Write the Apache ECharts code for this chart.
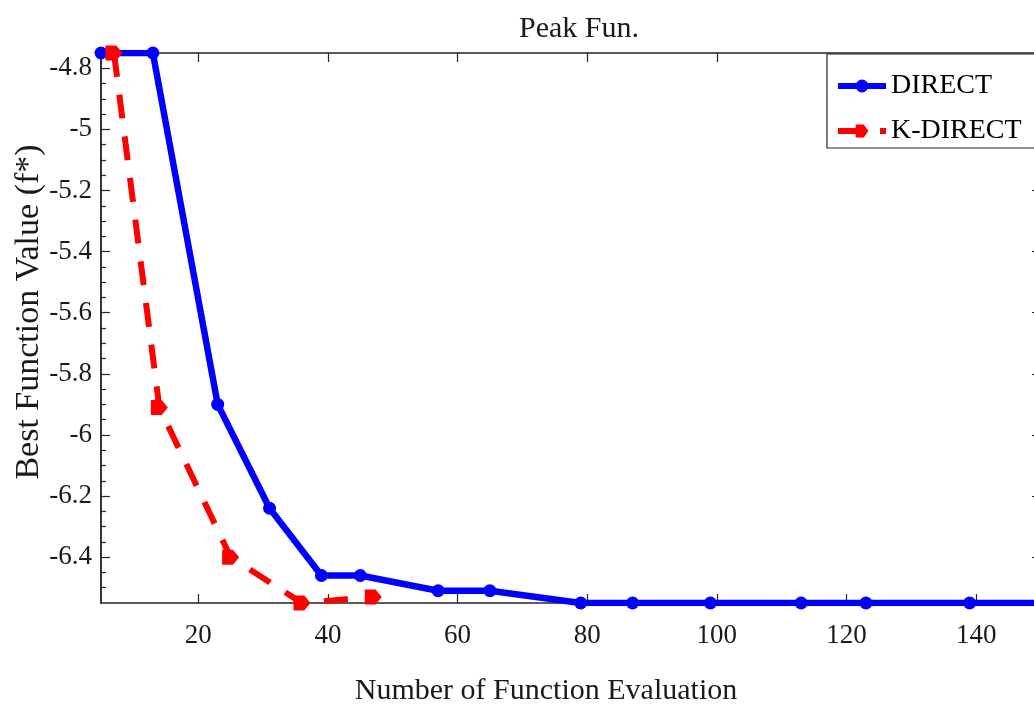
<!DOCTYPE html>
<html>
<head>
<meta charset="utf-8">
<script src="https://cdn.jsdelivr.net/npm/echarts@6/dist/echarts.min.js"></script>
<style>
  html, body { margin: 0; padding: 0; background: #fff; }
  #chart { width: 1034px; height: 709px; }
</style>
</head>
<body>
<div id="chart"></div>
<script>
// Best objective value found vs. number of function evaluations (Peak function)
const directEvals = [5, 13, 23, 31, 39, 45, 57, 65, 79, 87, 99, 113, 123, 139, 150];
const directBest  = [-4.75, -4.75, -5.90, -6.24, -6.46, -6.46, -6.51, -6.51, -6.55, -6.55, -6.55, -6.55, -6.55, -6.55, -6.55];

const kdirectEvals = [7, 14, 25, 36, 47];
const kdirectBest  = [-4.75, -5.91, -6.40, -6.55, -6.53];

const xTicks = [20, 40, 60, 80, 100, 120, 140];
const yTicks = [-6.4, -6.2, -6, -5.8, -5.6, -5.4, -5.2, -5, -4.8];

const X_MIN = 5, X_MAX = 150;
const Y_MIN = -6.55, Y_MAX = -4.75;

// minor ticks: four subdivisions per major step on the value axis
const yMinor = [];
for (let i = 0; i < yTicks.length; i++) {
  for (let k = 1; k <= 3; k++) {
    const v = +(yTicks[i] - k * 0.05).toFixed(3);
    if (v > Y_MIN) yMinor.push(v);
  }
}

const FONT = '"Liberation Serif", "Times New Roman", serif';
const AX = '#262626';

function pairs(xs, ys) { return xs.map((x, i) => [x, ys[i]]); }

function xAxisOf(position, withLabels) {
  return {
    type: 'value', position: position, min: X_MIN, max: X_MAX,
    axisLine: { show: true, onZero: false, lineStyle: { color: AX, width: 1.5 } },
    axisTick: { show: true, inside: true, length: 9, customValues: xTicks, lineStyle: { color: AX, width: 1.2 } },
    axisLabel: withLabels
      ? { show: true, customValues: xTicks, fontFamily: FONT, fontSize: 27, color: '#1a1a1a', margin: 19 }
      : { show: false },
    splitLine: { show: false },
    name: withLabels ? 'Number of Function Evaluation' : '',
    nameLocation: 'middle',
    nameGap: 73,
    nameMoveOverlap: false,
    nameTextStyle: { fontFamily: FONT, fontSize: 30, color: '#1a1a1a', padding: [0, 50, 0, 0] }
  };
}

function yAxisOf(position, ticks, len, withLabels) {
  return {
    type: 'value', position: position, min: Y_MIN, max: Y_MAX,
    axisLine: { show: true, onZero: false, lineStyle: { color: AX, width: 1.5 } },
    axisTick: { show: true, inside: true, length: len, customValues: ticks, lineStyle: { color: AX, width: 1.2 } },
    axisLabel: withLabels
      ? { show: true, customValues: yTicks, fontFamily: FONT, fontSize: 27, color: '#1a1a1a', margin: 9 }
      : { show: false },
    splitLine: { show: false },
    name: withLabels ? 'Best Function Value (f*)' : '',
    nameLocation: 'middle',
    nameGap: 55,
    nameMoveOverlap: false,
    nameTextStyle: { fontFamily: FONT, fontSize: 34, color: '#1a1a1a', padding: [0, 0, 0, 32] }
  };
}

const chart = echarts.init(document.getElementById('chart'), null, { renderer: 'canvas' });

chart.setOption({
  backgroundColor: '#ffffff',
  animation: false,
  title: {
    text: 'Peak Fun.',
    left: 519, top: 14, padding: 0,
    textStyle: { fontFamily: FONT, fontSize: 30, fontWeight: 'normal', color: '#1a1a1a' }
  },
  grid: { left: 101, top: 53, right: -7, bottom: 106, containLabel: false, outerBoundsMode: 'none' },
  xAxis: [ xAxisOf('bottom', true), xAxisOf('top', false) ],
  yAxis: [
    yAxisOf('left', yTicks, 9, true),
    yAxisOf('left', yMinor, 5, false),
    yAxisOf('right', yTicks, 9, false),
    yAxisOf('right', yMinor, 5, false)
  ],
  legend: {
    orient: 'vertical',
    left: 827, top: 54,
    padding: [17, 14, 2, 8],
    itemGap: 15,
    itemWidth: 48, itemHeight: 16,
    backgroundColor: '#ffffff',
    borderColor: AX, borderWidth: 1.2, borderRadius: 0,
    lineStyle: { width: 6 },
    textStyle: { fontFamily: FONT, fontSize: 28, color: '#000', lineHeight: 30 },
    data: ['DIRECT', 'K-DIRECT']
  },
  series: [
    {
      name: 'DIRECT', type: 'line',
      xAxisIndex: 0, yAxisIndex: 0,
      data: pairs(directEvals, directBest),
      symbol: 'circle', symbolSize: 13,
      lineStyle: { color: '#0000ff', width: 6.5 },
      itemStyle: { color: '#0000ff' },
      z: 3
    },
    {
      name: 'K-DIRECT', type: 'line',
      xAxisIndex: 0, yAxisIndex: 0,
      data: pairs(kdirectEvals, kdirectBest),
      symbol: 'path://M-5,-5 L2,-5 L6,0 L2,5 L-5,5 Z', symbolSize: [17, 15],
      lineStyle: { color: '#ff0000', width: 6, type: [24, 18] },
      itemStyle: { color: '#ff0000' },
      z: 4
    }
  ]
});
</script>
</body>
</html>
